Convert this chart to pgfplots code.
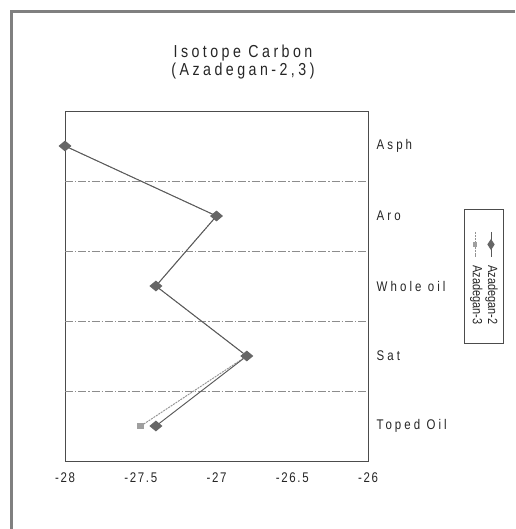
\documentclass[border=0pt]{standalone}
\usepackage{fontspec}
\setmainfont{Liberation Sans}
\newfontfamily\spaced[FakeStretch=0.82, LetterSpace=22]{Liberation Sans}
\newfontfamily\spacedN[FakeStretch=0.82, LetterSpace=12]{Liberation Sans}
\newfontfamily\spacedT[FakeStretch=0.82, LetterSpace=20]{Liberation Sans}
\newfontfamily\narrow[FakeStretch=0.82]{Liberation Sans}
\usepackage{pgfplots}
\pgfplotsset{compat=1.18}
\definecolor{axc}{gray}{0.3}
\definecolor{gridc}{gray}{0.55}
\begin{document}
\begin{tikzpicture}
\useasboundingbox (0,0) rectangle (386.25pt,396.75pt);
\fill[white] (0,0) rectangle (386.25pt,396.75pt);
\draw[line width=2.2pt, gray] (8.6pt,0) -- (8.6pt,388.2pt) -- (386.25pt,388.2pt);
\node[align=center, font=\spacedT\fontsize{13}{13.5}\selectfont, text=black!85] at (182.25pt,350.6pt) {Isotope Carbon\\(Azadegan-2,3)};
\begin{axis}[
  at={(48.75pt,51pt)}, anchor=south west,
  scale only axis, width=227.25pt, height=262.5pt,
  xmin=-28, xmax=-26, ymin=-0.5, ymax=4.5, y dir=reverse,
  xtick={-28,-27.5,-27,-26.5,-26},
  xticklabels={-28,-27.5,-27,-26.5,-26},
  ytick={0,1,2,3,4},
  yticklabels={Asph,Aro,Whole oil,Sat,Toped Oil},
  yticklabel pos=right,
  yticklabel style={anchor=west, xshift=3pt, font=\spaced\fontsize{10.5}{12}\selectfont, text=black!85},
  xticklabel style={yshift=-5pt, font=\spacedN\fontsize{10.5}{12}\selectfont, text=black!85},
  major tick length=0pt,
  axis line style={axc, line width=0.7pt},
  extra y ticks={0.5,1.5,2.5,3.5},
  extra y tick labels={},
  extra y tick style={grid=major, major grid style={gridc, line width=0.5pt, dash pattern=on 6pt off 1.5pt on 1pt off 1.5pt}},
  clip=false,
]
\addplot[color=gray!85, line width=0.7pt, dash pattern=on 1.5pt off 0.7pt,
  mark=square*, mark size=2.2pt, mark options={solid, fill=gray!75, draw=gray!75, yscale=0.75}]
  coordinates {(-28,0) (-27,1) (-27.4,2) (-26.8,3) (-27.5,4)};
\addplot[color=black!65, line width=0.7pt,
  mark=diamond*, mark size=3.6pt, mark options={fill=black!60, draw=black!60, xscale=1.6}]
  coordinates {(-28,0) (-27,1) (-27.4,2) (-26.8,3) (-27.4,4)};
\end{axis}
% legend (rotated, as in the reference)
\draw[axc, line width=0.5pt] (348pt,139.5pt) rectangle (377.25pt,240pt);
\draw[black!65, line width=0.7pt] (368.25pt,222.75pt) -- (368.25pt,204pt);
\fill[black!60] (368.25pt,217.6pt) -- (371pt,213.4pt) -- (368.25pt,209.2pt) -- (365.5pt,213.4pt) -- cycle;
\draw[gray!85, line width=0.7pt, dash pattern=on 1.5pt off 0.7pt] (356.25pt,222.75pt) -- (356.25pt,204pt);
\fill[gray!75] (354.8pt,215.2pt) rectangle (357.7pt,211.6pt);
\node[rotate=-90, anchor=west, inner sep=0pt, font=\narrow\fontsize{10}{11}\selectfont, text=black!85] at (368.6pt,198pt) {Azadegan-2};
\node[rotate=-90, anchor=west, inner sep=0pt, font=\narrow\fontsize{10}{11}\selectfont, text=black!85] at (357.2pt,198pt) {Azadegan-3};
\end{tikzpicture}
\end{document}
